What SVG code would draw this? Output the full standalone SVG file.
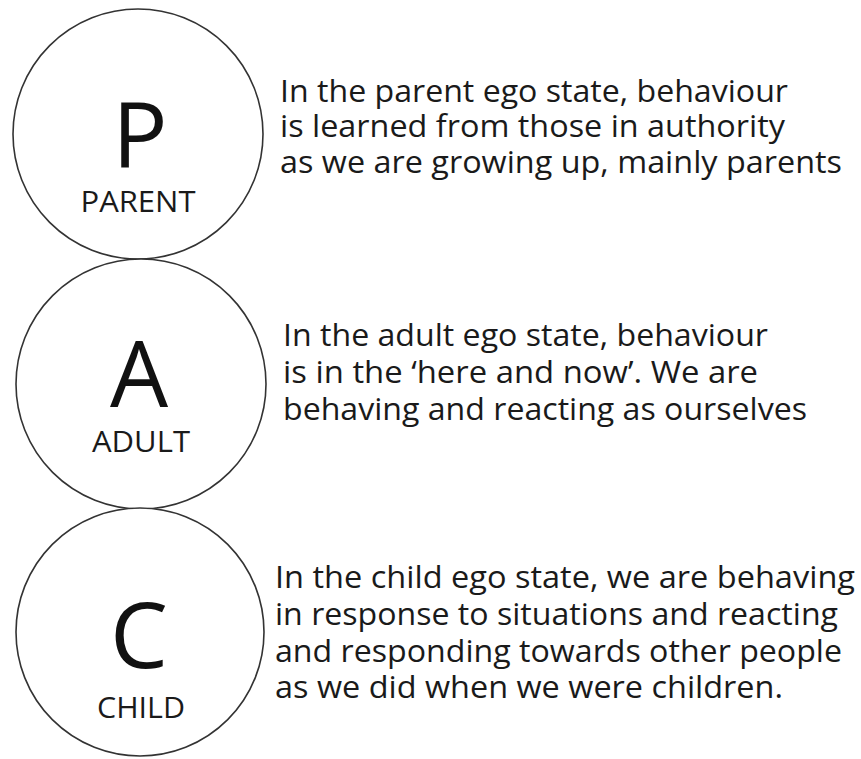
<svg xmlns="http://www.w3.org/2000/svg" width="861" height="759" viewBox="0 0 861 759">
<style>
.ring{fill:#ffffff;stroke:#333333;stroke-width:1.6}
.big{font-family:"Open Sans","Liberation Sans",sans-serif;font-size:92px;fill:#111111;text-anchor:middle}
.lbl{font-family:"Open Sans","Liberation Sans",sans-serif;font-size:30px;fill:#1a1a1a;text-anchor:middle}
.desc{font-family:"Open Sans","Liberation Sans",sans-serif;font-size:31px;fill:#1a1a1a}
</style>
<rect width="861" height="759" fill="#ffffff"/>
<g id="parent">
<circle class="ring" cx="138" cy="134" r="125"/>
<text class="big" x="140" y="168">P</text>
<text class="lbl" x="138" y="212" textLength="115" lengthAdjust="spacingAndGlyphs">PARENT</text>
<text class="desc" x="280" y="102" textLength="508" lengthAdjust="spacingAndGlyphs">In the parent ego state, behaviour</text>
<text class="desc" x="280" y="137" textLength="505" lengthAdjust="spacingAndGlyphs">is learned from those in authority</text>
<text class="desc" x="280" y="173" textLength="562" lengthAdjust="spacingAndGlyphs">as we are growing up, mainly parents</text>
</g>
<g id="adult">
<circle class="ring" cx="141" cy="384" r="125"/>
<text class="big" x="139" y="407">A</text>
<text class="lbl" x="141" y="452" textLength="98" lengthAdjust="spacingAndGlyphs">ADULT</text>
<text class="desc" x="283" y="346" textLength="485" lengthAdjust="spacingAndGlyphs">In the adult ego state, behaviour</text>
<text class="desc" x="283" y="383" textLength="475" lengthAdjust="spacingAndGlyphs">is in the ‘here and now’. We are</text>
<text class="desc" x="283" y="420" textLength="524" lengthAdjust="spacingAndGlyphs">behaving and reacting as ourselves</text>
</g>
<g id="child">
<circle class="ring" cx="140" cy="632" r="124"/>
<text class="big" x="139" y="668">C</text>
<text class="lbl" x="141" y="718" textLength="88" lengthAdjust="spacingAndGlyphs">CHILD</text>
<text class="desc" x="275" y="588" textLength="580" lengthAdjust="spacingAndGlyphs">In the child ego state, we are behaving</text>
<text class="desc" x="275" y="625" textLength="563" lengthAdjust="spacingAndGlyphs">in response to situations and reacting</text>
<text class="desc" x="275" y="662" textLength="567" lengthAdjust="spacingAndGlyphs">and responding towards other people</text>
<text class="desc" x="275" y="698" textLength="508" lengthAdjust="spacingAndGlyphs">as we did when we were children.</text>
</g>
<g id="connectors"></g>
</svg>
